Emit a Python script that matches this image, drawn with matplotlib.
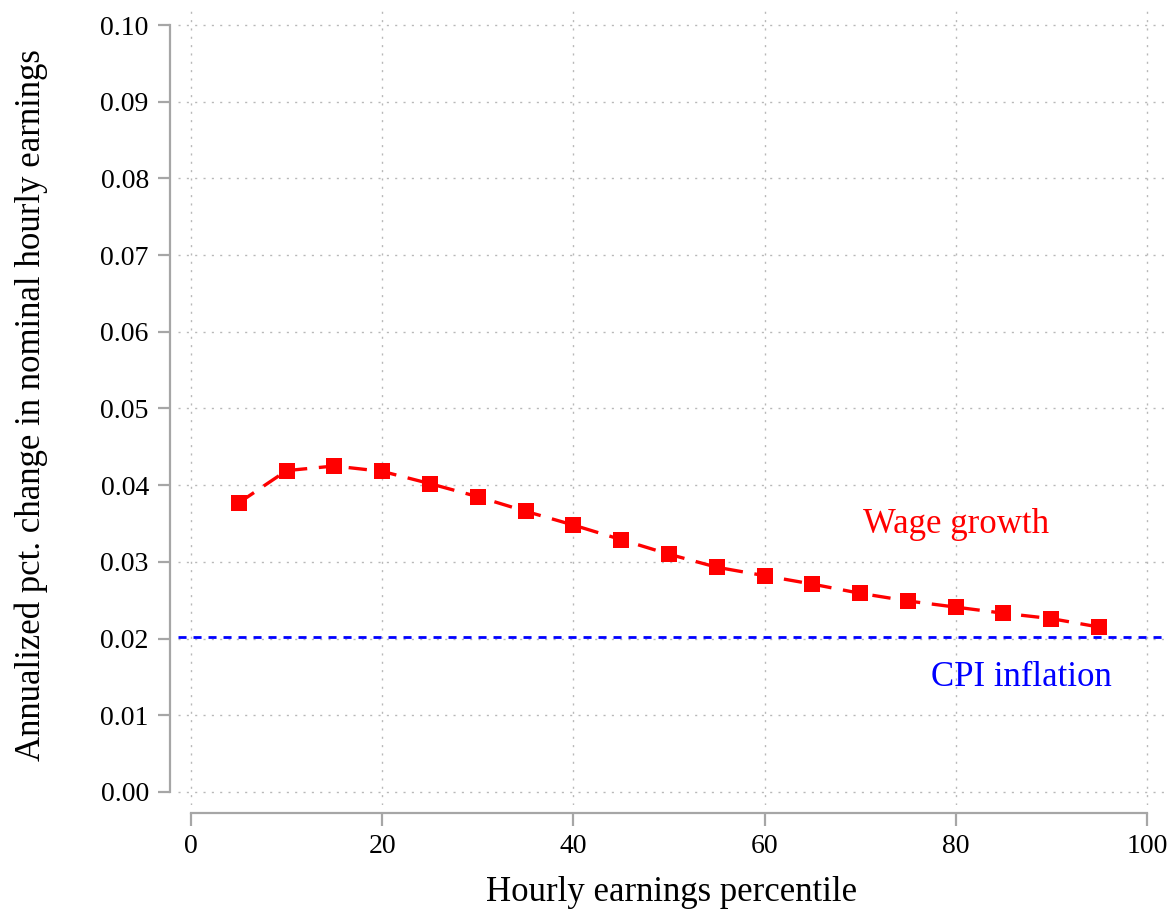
import numpy as np
import matplotlib
matplotlib.use('Agg')
import matplotlib.pyplot as plt

plt.rcParams['font.family'] = ['Liberation Serif', 'DejaVu Serif']

# данные
percentile = [5, 10, 15, 20, 25, 30, 35, 40, 45, 50, 55, 60, 65, 70, 75, 80, 85, 90, 95]
wage_growth = [0.0377, 0.0419, 0.0425, 0.0418, 0.0402, 0.0385, 0.0366, 0.0348, 0.0329,
               0.0310, 0.0293, 0.0282, 0.0271, 0.0259, 0.0249, 0.0241, 0.0233, 0.0226, 0.0215]
cpi_inflation = 0.0202
x_ticks = [0, 20, 40, 60, 80, 100]
y_ticks = [0.00, 0.01, 0.02, 0.03, 0.04, 0.05, 0.06, 0.07, 0.08, 0.09, 0.10]

fig = plt.figure(figsize=(11.75, 9.11), dpi=100)
ax = fig.add_axes([0.1515, 0.1164, 0.84, 0.878])

gray = '#a6a6a6'

ax.plot(percentile, wage_growth, color='red', linestyle=(0, (5.5, 3.5)), linewidth=2.4,
        marker='s', markersize=12, markeredgewidth=0, zorder=3)
ax.axhline(cpi_inflation, color='blue', linestyle=(0, (2.9, 2.5)), linewidth=2.0, zorder=2)

ax.text(80, 0.0349, 'Wage growth', color='red', fontsize=25, ha='center', va='center')
ax.text(86.9, 0.0149, 'CPI inflation', color='blue', fontsize=25, ha='center', va='center')

ax.set_xlim(-1.36, 101.9)
ax.set_ylim(-0.0017, 0.1026)
ax.set_xticks(x_ticks)
ax.set_yticks(y_ticks)
ax.set_yticklabels([f'{v:.2f}' for v in y_ticks])

ax.grid(True, color='#b8b8b8', linestyle=(0, (1.5, 4.5)), linewidth=1.0)
ax.set_axisbelow(True)

for s in ['top', 'right']:
    ax.spines[s].set_visible(False)
ax.spines['left'].set_position(('outward', 6))
ax.spines['bottom'].set_position(('outward', 6))
ax.spines['left'].set_bounds(0, 0.10)
ax.spines['bottom'].set_bounds(0, 100)
for s in ['left', 'bottom']:
    ax.spines[s].set_color(gray)
    ax.spines[s].set_linewidth(1.6)

ax.tick_params(axis='both', direction='out', length=9, width=1.6, color=gray,
               labelsize=20, pad=6)

ax.set_xlabel('Hourly earnings percentile', fontsize=25, labelpad=12)
ax.set_ylabel('Annualized pct. change in nominal hourly earnings', fontsize=25, labelpad=38)

fig.savefig('out.png', dpi=100)
